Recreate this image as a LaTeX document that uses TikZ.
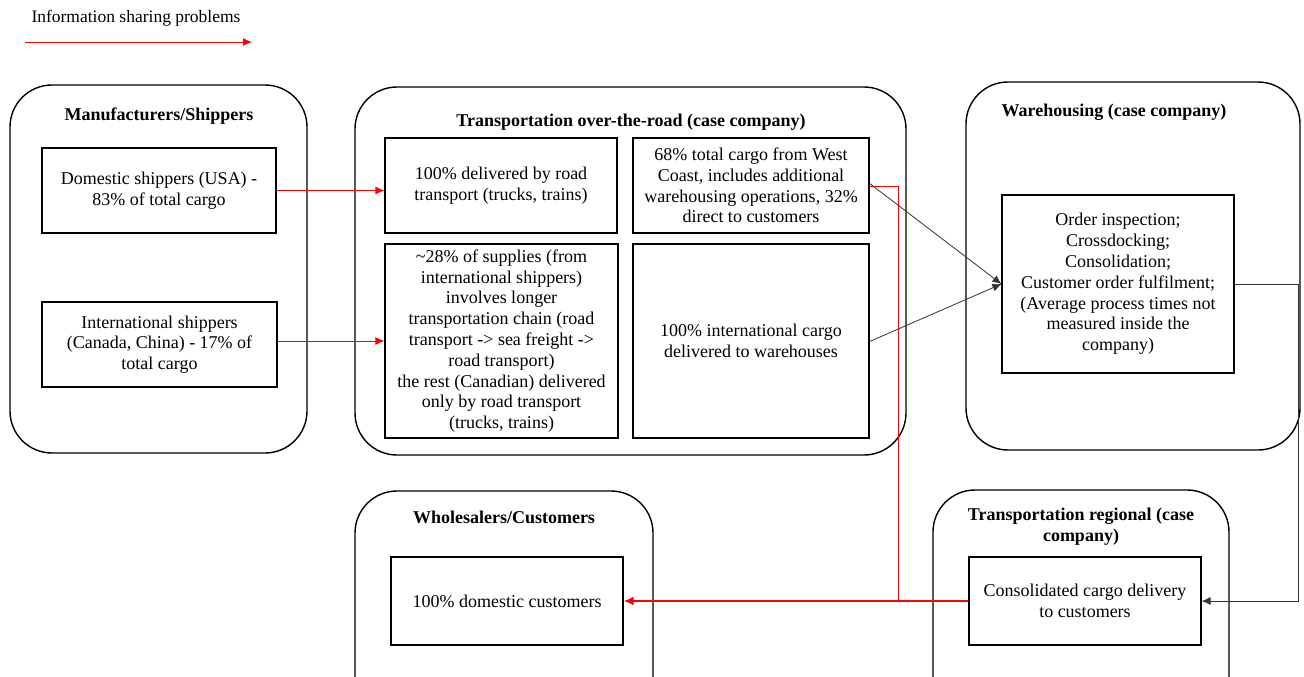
\documentclass[tikz,border=0pt]{standalone}
\usepackage{fontspec}
\setmainfont{Liberation Serif}
\usetikzlibrary{arrows.meta}
\begin{document}
\begin{tikzpicture}[x=1pt,y=-1pt,
  every node/.style={font=\fontsize{18}{20.8}\selectfont, align=center, inner sep=0pt},
  group/.style={draw, line width=1.4pt, rounded corners=42pt},
  item/.style={draw, line width=1.2pt},
  gtitle/.style={font=\fontsize{18}{20.8}\selectfont\bfseries},
  issue/.style={draw=red, line width=0.9pt},
  issuearrow/.style={issue, -{Latex[length=9pt,width=8pt]}},
  flow/.style={draw=black!80, line width=0.8pt, -{Latex[length=9pt,width=8pt]}}
]
\useasboundingbox (0,0) rectangle (1304,677);
\clip (0,0) rectangle (1304,677);

% legend
\node[font=\fontsize{17.5}{20}\selectfont] (legend) at (136,18) {Information sharing problems};
\coordinate (legA) at (25,42);
\coordinate (legB) at (252,42);
\draw[issuearrow] (legA) -- (legB);

% Manufacturers / shippers
\node[group, minimum width=297, minimum height=368] (mfg) at (158.5,269) {};
\node[gtitle] (mfgT) at (159,116) {Manufacturers/Shippers};
\node[item, minimum width=234, minimum height=85] (dom) at (159,190.5) {Domestic shippers (USA) -\\83\% of total cargo};
\node[item, minimum width=235, minimum height=85] (intl) at (159.5,344.5) {International shippers\\(Canada, China) - 17\% of\\total cargo};

% Transportation over-the-road
\node[group, minimum width=551, minimum height=368] (road) at (630.5,271) {};
\node[gtitle] (roadT) at (631,122) {Transportation over-the-road (case company)};
\node[item, minimum width=232, minimum height=95] (boxA) at (501,185.5) {100\% delivered by road\\transport (trucks, trains)};
\node[item, minimum width=236, minimum height=95] (boxB) at (751,185.5) {68\% total cargo from West\\Coast, includes additional\\warehousing operations, 32\%\\direct to customers};
\node[item, minimum width=233, minimum height=194] (boxC) at (501.5,341) {\textasciitilde 28\% of supplies (from\\international shippers)\\involves longer\\transportation chain (road\\transport -> sea freight ->\\road transport)\\the rest (Canadian) delivered\\only by road transport\\(trucks, trains)};
\node[item, minimum width=236, minimum height=194] (boxD) at (751,341) {100\% international cargo\\delivered to warehouses};

% Warehousing
\node[group, minimum width=334, minimum height=368] (wh) at (1133,266) {};
\node[gtitle] (whT) at (1114,112) {Warehousing (case company)};
\node[item, minimum width=232, minimum height=178] (order) at (1118,284) {Order inspection;\\Crossdocking;\\Consolidation;\\Customer order fulfilment;\\(Average process times not\\measured inside the\\company)};

% Wholesalers / customers
\node[group, minimum width=298, minimum height=230] (whs) at (504,606) {};
\node[gtitle] (whsT) at (504,517) {Wholesalers/Customers};
\node[item, minimum width=232, minimum height=88] (cust) at (507,601) {100\% domestic customers};

% Transportation regional
\node[group, minimum width=296, minimum height=230] (reg) at (1081,605) {};
\node[gtitle] (regT) at (1081,527) {Transportation regional (case\\company)};
\node[item, minimum width=232, minimum height=88] (cons) at (1085,601) {Consolidated cargo delivery\\to customers};

% information sharing problems
\draw[issuearrow] (dom.east) -- (dom.east -| boxA.west);
\draw[issuearrow] (intl.east |- boxC.west) -- (boxC.west);
\coordinate (junc) at (898,601);
\draw[issue] ([yshift=-1]boxB.east) -| (junc);
\draw[issue, line width=1.8pt, -{Latex[length=10pt,width=9pt]}] (cons.west) -- (cust.east);

% material flows
\draw[flow] ([yshift=2]boxB.east) -- (order.west);
\draw[flow] ([yshift=-0.5]boxD.east) -- (order.west);
\coordinate (bend) at (1298,284);
\draw[flow] (order.east) -- (bend) |- (cons.east);
\end{tikzpicture}
\end{document}
